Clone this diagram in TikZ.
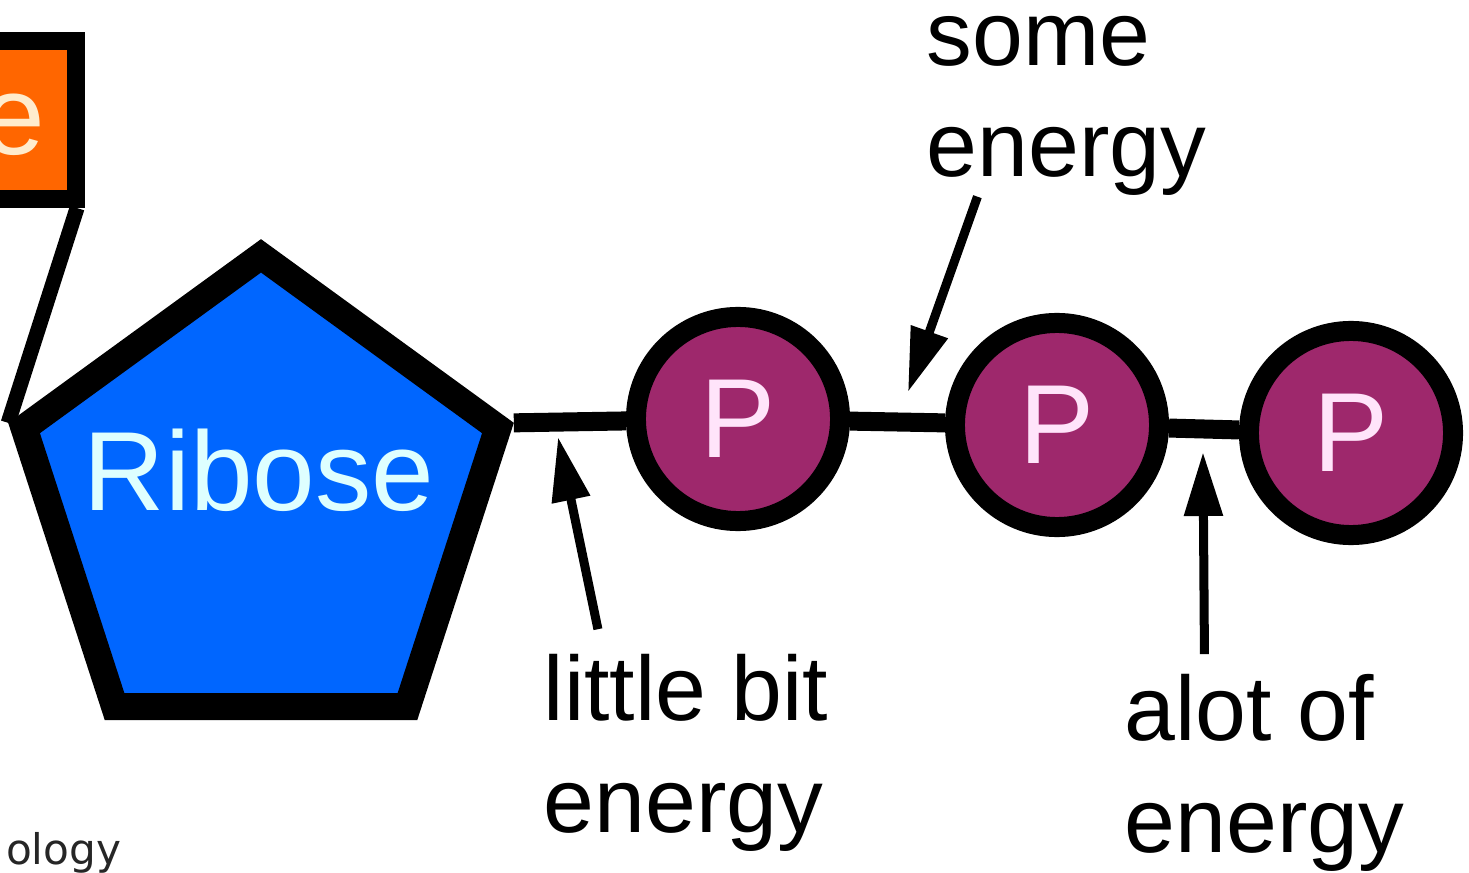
\documentclass[tikz,border=0pt]{standalone}
\usepackage{fontspec}
\setmainfont{Liberation Sans}
\newfontfamily\creditfont{DejaVu Sans}
\usepackage{tikz}
\usetikzlibrary{arrows.meta}
\usetikzlibrary{shapes.geometric}

\definecolor{riboseblue}{RGB}{0,102,255}
\definecolor{ribosetext}{RGB}{222,255,255}
\definecolor{baseorange}{RGB}{255,102,0}
\definecolor{basetext}{RGB}{255,236,205}
\definecolor{phosphatepurple}{RGB}{158,40,108}
\definecolor{phosphatetext}{RGB}{255,228,250}

\begin{document}
\begin{tikzpicture}[x=0.01cm,y=-0.01cm,
    bond/.style={line width=0.19cm},
    phosphate/.style={circle, draw, line width=0.2cm, fill=phosphatepurple,
      minimum size=2.04cm, inner sep=0pt, text=phosphatetext,
      font=\fontsize{32}{38}\selectfont},
    pointer/.style={line width=0.09cm, -{Triangle[length=0.64cm,width=0.37cm]}},
    energylabel/.style={align=left, inner sep=0pt, anchor=base west,
      font=\fontsize{26}{31.8}\selectfont}]
    \useasboundingbox (0,0) rectangle (1469,873);
    \clip (0,0) rectangle (1469,873);

    % base, only its right end is in view
    \node[draw, line width=0.18cm, fill=baseorange, minimum width=1.76cm,
      minimum height=1.58cm, inner sep=0pt] (base) at (-12,120) {};
    \node[anchor=base east, inner sep=0pt, text=basetext,
      font=\fontsize{32}{38}\selectfont] (baseE) at (46,155) {e};

    % sugar
    \node[regular polygon, regular polygon sides=5, draw, line width=0.27cm,
      fill=riboseblue, minimum size=4.98cm, inner sep=0pt] (ribose) at (261,505) {};
    \node[anchor=base, inner sep=0pt, text=ribosetext,
      font=\fontsize{32}{38}\selectfont] (riboseT) at (259,510) {Ribose};

    % phosphate chain
    \node[phosphate] (p1) at (738,419) {P};
    \node[phosphate] (p2) at (1057,425) {P};
    \node[phosphate] (p3) at (1351,433) {P};

    \draw[line width=0.15cm] ([xshift=-0.08cm]base.south east) -- (ribose.corner 2);
    \draw[bond] (ribose.corner 5) -- (p1);
    \draw[bond] (p1) -- (p2);
    \draw[bond] (p2) -- (p3);

    % energy labels (base = last line)
    \node[energylabel] (someE) at (926,177) {some\\energy};
    \node[energylabel] (littleE) at (543,832) {little bit\\energy};
    \node[energylabel] (alotE) at (1124,852) {alot of\\energy};

    \coordinate (tipSome) at (908,392);
    \coordinate (tipLittle) at (558,437);
    \coordinate (tipAlot) at (1203,452);

    \draw[pointer] ([xshift=-0.89cm]someE.south) -- (tipSome);
    \draw[pointer] ([xshift=-0.88cm,yshift=0.24cm]littleE.north) -- (tipLittle);
    \draw[pointer] ([xshift=-0.60cm,yshift=0.19cm]alotE.north) -- (tipAlot);

    \node[anchor=base east, inner sep=0pt, text=black!85,
      font=\creditfont\fontsize{12}{14}\selectfont] (credit) at (122,864) {ology};
\end{tikzpicture}
\end{document}
